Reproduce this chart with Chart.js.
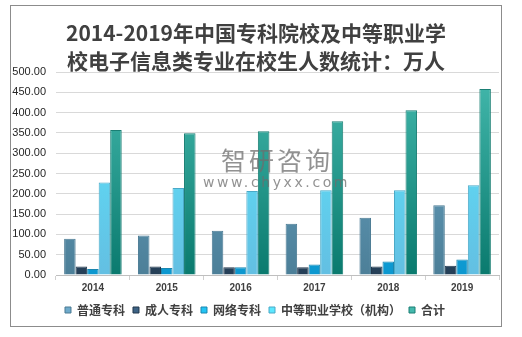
<!DOCTYPE html>
<html lang="zh">
<head>
  <meta charset="UTF-8" />
  <title>2014-2019年中国专科院校及中等职业学校电子信息类专业在校生人数统计</title>
  <script src="https://cdn.jsdelivr.net/npm/chart.js"></script>
  <style>
    body {
      margin: 0;
      width: 522px;
      height: 337px;
      background: #fff;
      overflow: hidden;
    }
    .panel {
      position: absolute;
      left: 10px;
      top: 5px;
      width: 490px;
      height: 320px;
      border: 1px solid #8c8c8c;
      background: #fff;
    }
    .titulo {
      position: absolute;
      left: 0;
      top: 12px;
      width: 100%;
      text-align: center;
      font-family: "Noto Sans CJK SC", sans-serif;
      font-weight: bold;
      font-size: 21px;
      line-height: 28px;
      color: #404040;
      z-index: 2;
    }
    .marca {
      position: absolute;
      left: 208px;
      top: 138px;
      color: rgba(110, 110, 110, 0.75);
      font-family: "Noto Sans CJK SC", sans-serif;
      z-index: 3;
      pointer-events: none;
    }
    .marca .nombre { font-size: 25px; line-height: 30px; letter-spacing: 3px; margin-left: 2px; }
    .marca .web { font-family: "DejaVu Sans", sans-serif; font-size: 14px; letter-spacing: 2.6px; margin-left: -16px; }
    canvas { position: absolute; left: 0; top: 0; }
  </style>
</head>
<body>
  <div class="panel">
    <div class="titulo">2014-2019年中国专科院校及中等职业学<br>校电子信息类专业在校生人数统计：万人</div>
    <div class="marca"><div class="nombre">智研咨询</div><div class="web">www.chyxx.com</div></div>
    <canvas id="grafica" width="490" height="320"></canvas>
  </div>

  <script>
    const anios = ["2014", "2015", "2016", "2017", "2018", "2019"];
    const series = ["普通专科", "成人专科", "网络专科", "中等职业学校（机构）", "合计"];
    const putong = [89, 97, 109, 126, 141, 172];
    const chengren = [21, 21, 19, 19, 21, 23];
    const wangluo = [15, 17, 19, 26, 33, 38];
    const zhongzhi = [228, 214, 207, 209, 209, 221];
    const heji = [357, 349, 354, 379, 406, 458];

    // colores arriba / abajo / borde para cada serie
    const colores = [
      ["#6eaacb", "#4c7f98", "#4a7a93"],
      ["#3d6385", "#253f57", "#22384d"],
      ["#22c4f4", "#0c97cf", "#1a86b0"],
      ["#5ce8ff", "#63bfe2", "#4aa9c7"],
      ["#44b9ad", "#0a7a6e", "#1a7f74"]
    ];

    function degradado(ctx, i) {
      const area = ctx.chart.chartArea;
      if (!area) return colores[i][0];
      const g = ctx.chart.ctx.createLinearGradient(0, area.top, 0, area.bottom);
      g.addColorStop(0, colores[i][0]);
      g.addColorStop(1, colores[i][1]);
      return g;
    }

    const datos = [putong, chengren, wangluo, zhongzhi, heji];

    new Chart(document.getElementById("grafica"), {
      type: "bar",
      data: {
        labels: anios,
        datasets: datos.map((d, i) => ({
          label: series[i],
          data: d,
          backgroundColor: ctx => degradado(ctx, i),
          borderColor: colores[i][2],
          borderWidth: 1,
          barPercentage: 1,
          categoryPercentage: 0.78
        }))
      },
      options: {
        responsive: false,
        animation: false,
        layout: { padding: { top: 66, right: 2, left: 0, bottom: 0 } },
        plugins: {
          tooltip: { enabled: false },
          legend: {
            position: "bottom",
            labels: {
              usePointStyle: true,
              pointStyle: "rect",
              boxWidth: 6,
              boxHeight: 6,
              padding: 8,
              color: "#404040",
              font: { family: "Noto Sans CJK SC", size: 12, weight: "bold" },
              generateLabels: chart => series.map((s, i) => ({
                text: s,
                fillStyle: colores[i][0],
                strokeStyle: colores[i][2],
                lineWidth: 1,
                pointStyle: "rect",
                datasetIndex: i,
                fontColor: "#404040"
              }))
            }
          }
        },
        scales: {
          x: {
            grid: { offset: true, drawOnChartArea: false, tickLength: 5, color: "#d0d0d0" },
            border: { color: "#bfbfbf" },
            ticks: { color: "#404040", font: { family: "Liberation Sans", size: 10, weight: "bold" }, padding: 2 }
          },
          y: {
            min: 0,
            max: 500,
            afterFit: s => { s.width = 45; },
            grid: { color: "#d9d9d9", drawTicks: false },
            border: { display: false },
            ticks: {
              stepSize: 50,
              padding: 10,
              color: "#262626",
              font: { family: "Liberation Sans", size: 11 },
              callback: v => v.toFixed(2)
            }
          }
        }
      }
    });
  </script>
</body>
</html>
